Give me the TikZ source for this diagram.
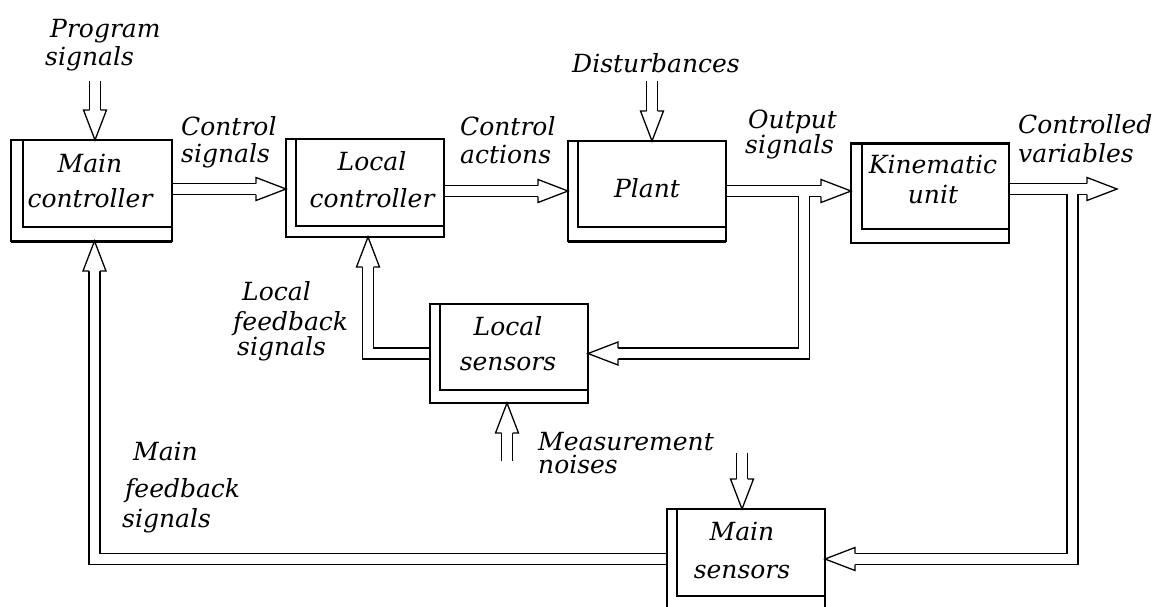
\documentclass[tikz,border=0pt]{standalone}
\usepackage{fontspec}
\setmainfont{DejaVu Serif}
\usetikzlibrary{calc}
\newcommand\tl[1]{\begin{tabular}[t]{@{}l@{}}#1\end{tabular}}
\newcommand\tc[1]{\begin{tabular}[t]{@{}c@{}}#1\end{tabular}}
\newcommand\allpipes[1]{%
  \draw[#1] (progin) -- (progin |- mc.north);
  \draw[#1] (mc.east |- csig) -- (csig -| lc.west);
  \draw[#1] (lc.east |- pl.west) -- (pl.west);
  \draw[#1] (dist) -- (dist |- pl.north);
  \draw[#1] (pl.east) -- (pl.east -| ku.west);
  \draw[#1] (ku.east |- cv) -- (cv);
  \draw[#1] (j1) |- (ls.east);
  \draw[#1] (ls.west) -| (lcin);
  \draw[#1] (mn) -- (mn |- ls.south);
  \draw[#1] (j2) |- (ms.east);
  \draw[#1] (msn) -- (msn |- ms.north);
  \draw[#1] (ms.west) -| (mcin);
}
\begin{document}
\begin{tikzpicture}[x=1pt,y=-1pt,
  lbl/.style={font=\fontsize{25}{30}\selectfont\itshape, inner sep=0pt, anchor=base west},
  btxt/.style={font=\fontsize{25}{30}\selectfont\itshape, inner sep=0pt, anchor=base},
  box/.style={draw, line width=1.3pt, inner sep=0pt, outer sep=0pt, minimum width=158pt, minimum height=100pt},
  inl/.style={line width=1.3pt},
  thk/.style={line width=3pt},
  pipeo/.style={line width=12.3pt, black, line join=miter, shorten >=30pt, shorten <=0.7pt},
  pipei/.style={line width=9.7pt, white, line join=miter, shorten >=30pt, shorten <=0.7pt},
  head/.pic={\draw[line width=1.3pt, fill=white, line join=miter] (-30,-5.5) -- (-30,-11.5) -- (0,0) -- (-30,11.5) -- (-30,5.5);}
]
\useasboundingbox (0,0) rectangle (1156,606);
\clip (0,0) rectangle (1156,606);

% boxes
\node[box, minimum width=161pt, minimum height=101pt] (mc) at (91.5,190.5) {};
\node[box, minimum height=98pt] (lc) at (365,188) {};
\node[box] (pl) at (647,191) {};
\node[box] (ku) at (930,193) {};
\node[box, minimum height=99pt] (ls) at (509,353.5) {};
\node[box] (ms) at (746,559) {};

\draw[inl] ($(mc.north west)+(12,0)$) |- ($(mc.south east)+(0,-14)$);
\draw[inl] ($(lc.north west)+(10,0)$) |- ($(lc.south east)+(0,-11)$);
\draw[inl] ($(pl.north west)+(10,0)$) |- ($(pl.south east)+(0,-14)$);
\draw[inl] ($(ku.north west)+(11,0)$) |- ($(ku.south east)+(0,-14)$);
\draw[inl] ($(ls.north west)+(10,0)$) |- ($(ls.south east)+(0,-13)$);
\draw[inl] ($(ms.north west)+(10,0)$) |- ($(ms.south east)+(0,-13)$);

\draw[thk] (mc.south west) -- (mc.south east);
\draw[thk] (pl.south west) -- (pl.south east);
\draw[thk] (ku.north west) -- (ku.north east);

% box texts
\node[btxt] (mct) at (90,172) {\tc{Main\\[5pt]controller}};
\node[btxt] (lct) at (372,170) {\tc{Local\\[7pt]controller}};
\node[btxt] (plt) at (647,197) {Plant};
\node[btxt] (kut) at (933,173) {\tc{Kinematic\\unit}};
\node[btxt] (lst) at (508,335) {\tc{Local\\[5pt]sensors}};
\node[btxt] (mst) at (742,540) {\tc{Main\\[8pt]sensors}};

% labels
\node[lbl] (l1) at (45,37) {\tl{\hspace*{5pt}Program\\[-2pt]signals}};
\node[lbl] (l2) at (181,135) {\tl{Control\\[-3pt]signals}};
\node[lbl] (l3) at (460,135) {\tl{Control\\[-2pt]actions}};
\node[lbl] (l4) at (572,72) {Disturbances};
\node[lbl] (l5) at (745,128) {\tl{\hspace*{3pt}Output\\[-5pt]signals}};
\node[lbl] (l6) at (1018,133) {\tl{Controlled\\[-1pt]variables}};
\node[lbl] (l7) at (233,300) {\tl{\hspace*{9pt}Local\\feedback\\[-5pt]\hspace*{4pt}signals}};
\node[lbl] (l8) at (122,460) {\tl{\hspace*{11pt}Main\\[7pt]\hspace*{3pt}feedback\\signals}};
\node[lbl] (l9) at (538,450) {\tl{Measurement\\[-7pt]noises}};

% connector end points
\coordinate (progin) at (95,80);
\coordinate (csig) at (0,189);
\coordinate (dist) at (652,80);
\coordinate (cv) at (1117,189);
\coordinate (j1) at ($(pl.east)+(78,0)$);
\coordinate (j2) at (1072.5,189);
\coordinate (lcin) at ($(lc.south)+(3,0)$);
\coordinate (mcin) at ($(mc.south)+(3,0)$);
\coordinate (mn) at (507,462);
\coordinate (msn) at (742,452);

\allpipes{pipeo}
\allpipes{pipei}

% arrow heads
\pic[rotate=-90] at (progin |- mc.north) {head};
\pic at (csig -| lc.west) {head};
\pic at (pl.west) {head};
\pic[rotate=-90] at (dist |- pl.north) {head};
\pic at (pl.east -| ku.west) {head};
\pic at (cv) {head};
\pic[rotate=180] at (ls.east) {head};
\pic[rotate=90] at (lcin) {head};
\pic[rotate=90] at (mn |- ls.south) {head};
\pic[rotate=180] at (ms.east) {head};
\pic[rotate=-90] at (msn |- ms.north) {head};
\pic[rotate=90] at (mcin) {head};
\end{tikzpicture}
\end{document}
